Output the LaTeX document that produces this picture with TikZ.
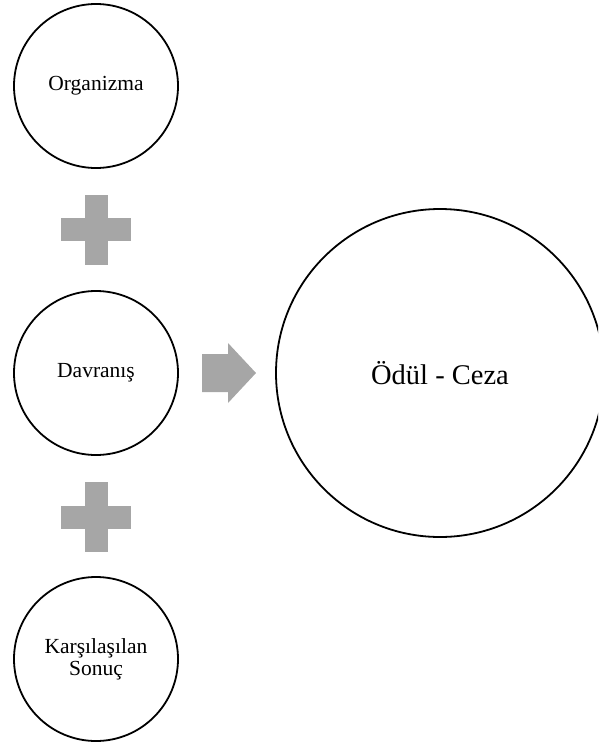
\documentclass[tikz,border=0pt]{standalone}
\usepackage{fontspec}
\setmainfont{Liberation Serif}
\definecolor{signgray}{RGB}{166,166,166}
\tikzset{
  stagecircle/.style={circle,draw=black,line width=1.8pt,fill=white,inner sep=0pt,
    minimum size=164pt,align=center,font=\fontsize{21.5}{22}\selectfont},
  resultcircle/.style={stagecircle,minimum size=328pt,font=\fontsize{28.5}{30}\selectfont},
  signfill/.style={fill=signgray,draw=none},
  plussign/.pic={
    \path[signfill] (-11.5,-35) rectangle (11.5,35);
    \path[signfill] (-35,-11.5) rectangle (35,11.5);
  }
}

\begin{document}
\begin{tikzpicture}[x=1pt,y=-1pt]
  \clip (0,0) rectangle (598,745);
  \node[stagecircle] (organizma) at (96,86) {Organizma};
  \node[stagecircle] (davranis) at (96,373) {Davranış};
  \node[stagecircle] (sonuc) at (96,659) {Karşılaşılan\\Sonuç};
  \node[resultcircle] (odulceza) at (440,373) {Ödül - Ceza};
  \pic at (96,229.5) {plussign};
  \pic at (96,517) {plussign};
  \path[signfill] (202,354)--(228,354)--(228,343)--(256,373)
    --(228,403)--(228,392)--(202,392)--cycle;
\end{tikzpicture}
\end{document}
